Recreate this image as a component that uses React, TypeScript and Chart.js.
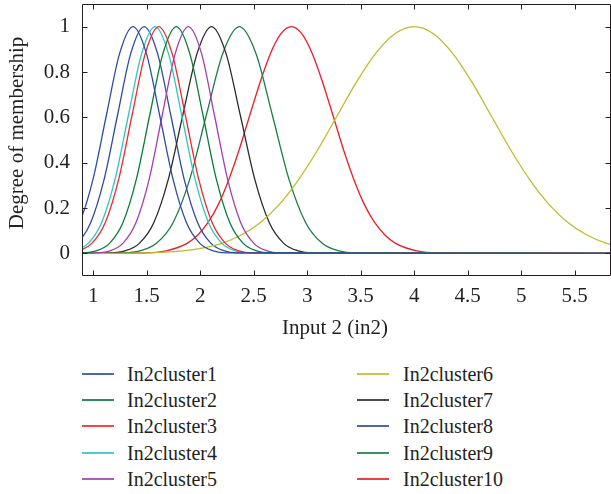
import React, { useEffect, useRef } from 'react';
import { Chart, registerables } from 'chart.js';

Chart.register(...registerables);

const FONT = '"Liberation Serif", "Times New Roman", serif';
const TEXT = '#231f20';

// Series names and colours (legend order)
const seriesLabels = [
  'In2cluster1', 'In2cluster2', 'In2cluster3', 'In2cluster4', 'In2cluster5',
  'In2cluster6', 'In2cluster7', 'In2cluster8', 'In2cluster9', 'In2cluster10',
];
const seriesColors = [
  '#2c4fa3', '#0b7a3b', '#f0282d', '#2ec4c4', '#a23fae',
  '#bdbd2c', '#2b2b2b', '#2e4b9e', '#1b7e45', '#ee1c24',
];

// Membership curves: [input, degree] pairs
const in2cluster1 = [[0.747, 0.044], [0.872, 0.135], [0.997, 0.325], [1.122, 0.607], [1.247, 0.882], [1.372, 1], [1.497, 0.882], [1.622, 0.607], [1.747, 0.325], [1.872, 0.135], [1.997, 0.044], [2.122, 0.011], [2.247, 0.002], [6, 0]];
const in2cluster2 = [[0.777, 0], [0.902, 0.002], [1.027, 0.011], [1.152, 0.044], [1.277, 0.135], [1.402, 0.325], [1.527, 0.607], [1.652, 0.882], [1.777, 1], [1.902, 0.882], [2.027, 0.607], [2.152, 0.325], [2.277, 0.135], [2.402, 0.044], [2.527, 0.011], [2.652, 0.002], [6, 0]];
const in2cluster3 = [[0.737, 0.002], [0.862, 0.011], [0.987, 0.044], [1.112, 0.135], [1.237, 0.325], [1.362, 0.607], [1.487, 0.882], [1.612, 1], [1.737, 0.882], [1.862, 0.607], [1.987, 0.325], [2.112, 0.135], [2.237, 0.044], [2.362, 0.011], [2.487, 0.002], [6, 0]];
const in2cluster4 = [[0.828, 0.011], [0.953, 0.044], [1.078, 0.135], [1.203, 0.325], [1.328, 0.607], [1.453, 0.882], [1.578, 1], [1.703, 0.882], [1.828, 0.607], [1.953, 0.325], [2.078, 0.135], [2.203, 0.044], [2.328, 0.011], [2.453, 0.002], [6, 0]];
const in2cluster5 = [[0.8, 0], [1.032, 0.002], [1.154, 0.011], [1.277, 0.044], [1.399, 0.135], [1.522, 0.325], [1.644, 0.607], [1.767, 0.882], [1.889, 1], [2.012, 0.882], [2.134, 0.607], [2.257, 0.325], [2.379, 0.135], [2.502, 0.044], [2.624, 0.011], [2.747, 0.002], [6, 0]];
const in2cluster6 = [[0.8, 0], [1.48, 0.002], [1.84, 0.011], [2.02, 0.023], [2.2, 0.044], [2.38, 0.08], [2.56, 0.135], [2.74, 0.216], [2.92, 0.325], [3.1, 0.458], [3.28, 0.607], [3.46, 0.755], [3.64, 0.882], [3.82, 0.969], [4, 1], [4.18, 0.969], [4.36, 0.882], [4.54, 0.755], [4.72, 0.607], [4.9, 0.458], [5.08, 0.325], [5.26, 0.216], [5.44, 0.135], [5.62, 0.08], [5.8, 0.044], [6.16, 0.011]];
const in2cluster7 = [[0.8, 0], [1.161, 0.002], [1.296, 0.011], [1.431, 0.044], [1.566, 0.135], [1.701, 0.325], [1.836, 0.607], [1.971, 0.882], [2.106, 1], [2.241, 0.882], [2.376, 0.607], [2.511, 0.325], [2.646, 0.135], [2.781, 0.044], [2.916, 0.011], [3.051, 0.002], [6, 0]];
const in2cluster8 = [[0.726, 0.011], [0.851, 0.044], [0.976, 0.135], [1.101, 0.325], [1.226, 0.607], [1.351, 0.882], [1.476, 1], [1.601, 0.882], [1.726, 0.607], [1.851, 0.325], [1.976, 0.135], [2.101, 0.044], [2.226, 0.011], [2.351, 0.002], [6, 0]];
const in2cluster9 = [[0.8, 0], [1.281, 0.002], [1.436, 0.011], [1.591, 0.044], [1.746, 0.135], [1.901, 0.325], [2.056, 0.607], [2.211, 0.882], [2.366, 1], [2.521, 0.882], [2.676, 0.607], [2.831, 0.325], [2.986, 0.135], [3.141, 0.044], [3.296, 0.011], [3.451, 0.002], [6, 0]];
const in2cluster10 = [[0.8, 0], [1.487, 0.002], [1.682, 0.011], [1.877, 0.044], [1.975, 0.08], [2.072, 0.135], [2.17, 0.216], [2.267, 0.325], [2.365, 0.458], [2.462, 0.607], [2.56, 0.755], [2.657, 0.882], [2.755, 0.969], [2.852, 1], [2.949, 0.969], [3.047, 0.882], [3.144, 0.755], [3.242, 0.607], [3.339, 0.458], [3.437, 0.325], [3.534, 0.216], [3.632, 0.135], [3.729, 0.08], [3.827, 0.044], [4.022, 0.011], [4.217, 0.002], [6, 0]];

const seriesData = [
  in2cluster1, in2cluster2, in2cluster3, in2cluster4, in2cluster5,
  in2cluster6, in2cluster7, in2cluster8, in2cluster9, in2cluster10,
];

const xTickValues = [1, 1.5, 2, 2.5, 3, 3.5, 4, 4.5, 5, 5.5];
const yTickValues = [0, 0.2, 0.4, 0.6, 0.8, 1];
const xRange = [0.895, 5.84];
const yRange = [-0.1, 1.1];
const xTitle = 'Input 2 (in2)';
const yTitle = 'Degree of membership';

const CANVAS_W = 611;
const CANVAS_H = 346;

const framePlugin = {
  id: 'frame',
  afterDraw(chart: any) {
    const { ctx, chartArea, scales } = chart;
    const { left, right, top, bottom } = chartArea;
    const L = left + 0.5;
    const R = right - 0.5;
    const T = top + 0.5;
    const B = bottom - 0.5;
    const tick = 5;
    ctx.save();
    ctx.strokeStyle = TEXT;
    ctx.lineWidth = 1;
    ctx.beginPath();
    ctx.rect(L, T, R - L, B - T);
    for (const v of xTickValues) {
      const px = Math.round(scales.x.getPixelForValue(v)) + 0.5;
      ctx.moveTo(px, B);
      ctx.lineTo(px, B - tick);
      ctx.moveTo(px, T);
      ctx.lineTo(px, T + tick);
    }
    for (const v of yTickValues) {
      const py = Math.round(scales.y.getPixelForValue(v)) + 0.5;
      ctx.moveTo(L, py);
      ctx.lineTo(L + tick, py);
      ctx.moveTo(R, py);
      ctx.lineTo(R - tick, py);
    }
    ctx.stroke();

    ctx.fillStyle = TEXT;
    ctx.font = `21px ${FONT}`;
    ctx.textAlign = 'center';
    ctx.textBaseline = 'middle';
    ctx.fillText(xTitle, left + 253, bottom + 52);
    ctx.translate(17, top + 129);
    ctx.rotate(-Math.PI / 2);
    ctx.fillText(yTitle, 0, 0);
    ctx.restore();
  },
};

function ChartCanvas() {
  const ref = useRef<HTMLCanvasElement | null>(null);
  useEffect(() => {
    if (!ref.current) return;
    const chart = new Chart(ref.current, {
      type: 'line',
      data: {
        datasets: seriesData.map((pts, i) => ({
          label: seriesLabels[i],
          data: pts.map(([x, y]) => ({ x, y })),
          borderColor: seriesColors[i],
          backgroundColor: seriesColors[i],
          borderWidth: 1.3,
          pointRadius: 0,
          fill: false,
          cubicInterpolationMode: 'monotone',
        })),
      },
      options: {
        responsive: false,
        animation: false,
        devicePixelRatio: 1,
        layout: { padding: { top: 4, right: 0, left: 0, bottom: 0 } },
        plugins: { legend: { display: false }, tooltip: { enabled: false } },
        scales: {
          x: {
            type: 'linear',
            min: xRange[0],
            max: xRange[1],
            grid: { display: false, drawTicks: false },
            border: { display: false },
            afterBuildTicks: (scale: any) => {
              scale.ticks = xTickValues.map((v) => ({ value: v }));
            },
            afterFit: (scale: any) => {
              scale.height = 70;
              scale.paddingLeft = 0;
              scale.paddingRight = 0;
              scale.paddingTop = 0;
              scale.paddingBottom = 0;
            },
            ticks: {
              color: TEXT,
              font: { family: FONT, size: 21 },
              padding: 8,
              maxRotation: 0,
              autoSkip: false,
              callback: (v: any) => String(v),
            },
          },
          y: {
            type: 'linear',
            min: yRange[0],
            max: yRange[1],
            grid: { display: false, drawTicks: false },
            border: { display: false },
            afterBuildTicks: (scale: any) => {
              scale.ticks = yTickValues.map((v) => ({ value: v }));
            },
            afterFit: (scale: any) => {
              scale.width = 82;
              scale.paddingLeft = 0;
              scale.paddingRight = 0;
              scale.paddingTop = 0;
              scale.paddingBottom = 0;
            },
            ticks: {
              color: TEXT,
              font: { family: FONT, size: 21 },
              padding: 12,
              autoSkip: false,
              callback: (v: any) => String(v),
            },
          },
        },
      },
      plugins: [framePlugin],
    } as any);
    return () => chart.destroy();
  }, []);
  return (
    <canvas
      ref={ref}
      width={CANVAS_W}
      height={CANVAS_H}
      style={{ display: 'block', width: CANVAS_W, height: CANVAS_H }}
    />
  );
}

function Legend() {
  const rows = 5;
  const colLine = [82, 357];
  const colText = [127, 403];
  const firstRow = 373.5;
  const rowGap = 26.4;
  return (
    <>
      {seriesLabels.map((label, i) => {
        const col = Math.floor(i / rows);
        const row = i % rows;
        const cy = firstRow + row * rowGap;
        return (
          <div key={label}>
            <div
              style={{
                position: 'absolute',
                left: colLine[col],
                top: Math.round(cy) - 1,
                width: 32,
                height: 2,
                background: seriesColors[i],
                opacity: 0.85,
              }}
            />
            <div
              style={{
                position: 'absolute',
                left: colText[col],
                top: cy - 13,
                height: 26,
                lineHeight: '26px',
                fontFamily: FONT,
                fontSize: 20,
                color: TEXT,
                whiteSpace: 'nowrap',
              }}
            >
              {label}
            </div>
          </div>
        );
      })}
    </>
  );
}

export default function App() {
  useEffect(() => {
    document.body.style.margin = '0';
    document.body.style.background = '#ffffff';
  }, []);
  return (
    <div style={{ position: 'relative', width: 611, height: 494, overflow: 'hidden', background: '#fff' }}>
      <ChartCanvas />
      <Legend />
    </div>
  );
}
